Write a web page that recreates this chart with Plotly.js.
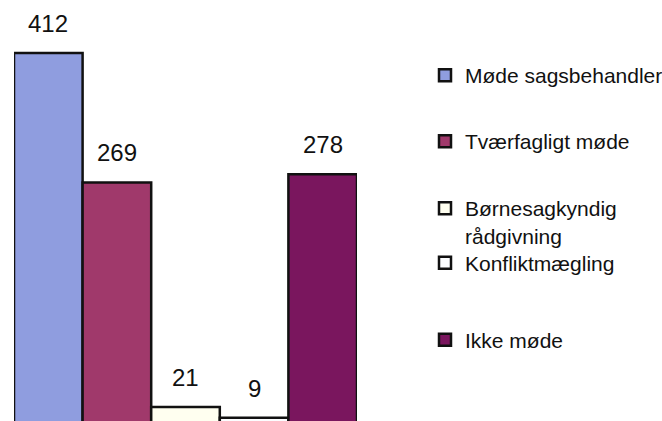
<!DOCTYPE html>
<html>
<head>
<meta charset="utf-8">
<script src="https://cdn.plot.ly/plotly-3.0.1.min.js"></script>
<style>html,body{margin:0;padding:0;background:#fff;}#chart{width:662px;height:421px;}</style>
</head>
<body>
<div id="chart"></div>
<script>
const seriesNames = ['Møde sagsbehandler', 'Tværfagligt møde', 'Børnesagkyndig<br>rådgivning', 'Konfliktmægling', 'Ikke møde'];
const seriesValues = [412, 269, 21, 9, 278];
const seriesColors = ['#8F9DDF', '#A0396B', '#FFFFF0', '#FCFDFF', '#7A165E'];
const legendCentersPx = [75.5, 141.5, 204, 263, 340];

const traces = seriesNames.map((name, i) => ({
  type: 'bar',
  name: name,
  x: [name],
  y: [seriesValues[i]],
  width: [1],
  marker: {color: seriesColors[i], line: {color: '#111111', width: 2.5}},
  legend: i === 0 ? 'legend' : 'legend' + (i + 1),
  hoverinfo: 'skip'
}));

const annotations = seriesNames.map((name, i) => ({
  x: name, y: seriesValues[i], xref: 'x', yref: 'y',
  text: String(seriesValues[i]), showarrow: false,
  yanchor: 'bottom', yshift: 14,
  font: {family: 'Liberation Sans, Arial, sans-serif', size: 24, color: '#111111'}
}));

const layout = {
  width: 662, height: 421,
  margin: {l: 14, r: 305, t: 0, b: 0, pad: 0},
  paper_bgcolor: '#ffffff', plot_bgcolor: '#ffffff',
  barmode: 'overlay', bargap: 0,
  xaxis: {visible: false, range: [-0.5, 4.5], type: 'category', categoryorder: 'array', categoryarray: seriesNames, fixedrange: true},
  yaxis: {visible: false, range: [5.4, 470.6], fixedrange: true},
  annotations: annotations,
  showlegend: true
};

legendCentersPx.forEach((cy, i) => {
  const key = i === 0 ? 'legend' : 'legend' + (i + 1);
  const multi = seriesNames[i].indexOf('<br>') >= 0;
  layout[key] = {
    xref: 'container', yref: 'container',
    x: 425 / 662, xanchor: 'left',
    y: multi ? 1 - (cy - 16) / 421 : 1 - cy / 421,
    yanchor: multi ? 'top' : 'middle',
    valign: 'top',
    bgcolor: 'rgba(0,0,0,0)', borderwidth: 0,
    font: {family: 'Liberation Sans, Arial, sans-serif', size: 21, color: '#111111'},
    itemclick: false, itemdoubleclick: false
  };
});

Plotly.newPlot('chart', traces, layout, {displayModeBar: false, staticPlot: true});
</script>
</body>
</html>
